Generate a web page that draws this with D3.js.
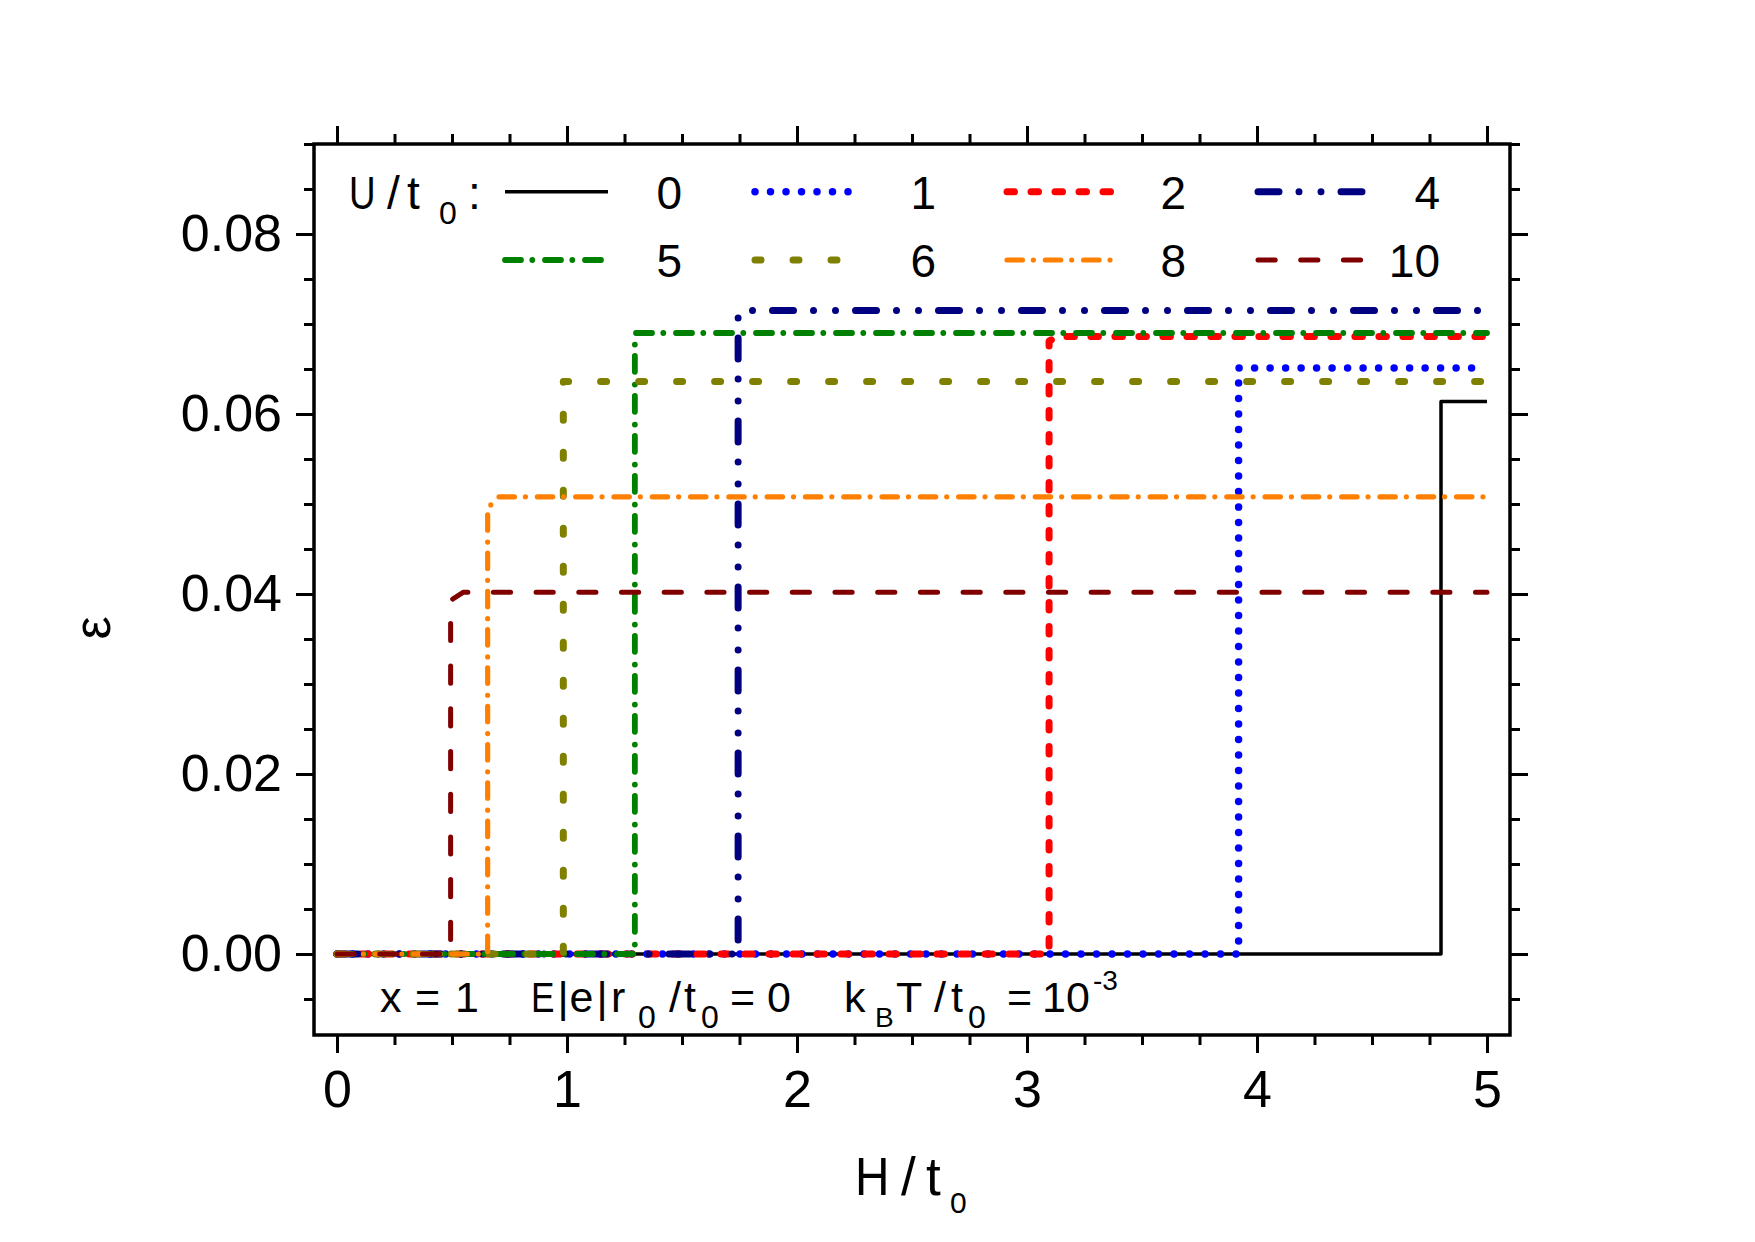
<!DOCTYPE html>
<html>
<head>
<meta charset="utf-8">
<script src="https://cdn.jsdelivr.net/npm/d3@7"></script>
<style>
  html, body { margin: 0; padding: 0; background: #fff; }
  svg { display: block; }
  text { font-family: "Liberation Sans", Arial, Helvetica, sans-serif; fill: #000; }
</style>
</head>
<body>
<svg id="chart" width="1755" height="1242"></svg>
<script>
// ---------------- data ----------------
const U_LABELS = ["0", "1", "2", "4", "5", "6", "8", "10"];

const H_U0  = [0, 4.80, 4.80, 5.00];
const EPS_U0 = [0, 0, 0.0614, 0.0614];

const H_U1  = [0, 3.92, 3.92, 5.00];
const EPS_U1 = [0, 0, 0.0651, 0.0651];

const H_U2  = [0, 3.096, 3.096, 3.13, 5.00];
const EPS_U2 = [0, 0, 0.0681, 0.0686, 0.0686];

const H_U4  = [0, 1.744, 1.744, 5.00];
const EPS_U4 = [0, 0, 0.0715, 0.0715];

const H_U5  = [0, 1.295, 1.295, 5.00];
const EPS_U5 = [0, 0, 0.0690, 0.0690];

const H_U6  = [0, 0.984, 0.984, 5.00];
const EPS_U6 = [0, 0, 0.0636, 0.0636];

const H_U8  = [0, 0.655, 0.655, 0.70, 5.00];
const EPS_U8 = [0, 0, 0.0495, 0.0508, 0.0508];

const H_U10  = [0, 0.494, 0.494, 0.55, 5.00];
const EPS_U10 = [0, 0, 0.0393, 0.0402, 0.0402];

const X_TICKS = [0, 1, 2, 3, 4, 5];
const X_TICK_LABELS = ["0", "1", "2", "3", "4", "5"];
const Y_TICKS = [0, 0.02, 0.04, 0.06, 0.08];
const Y_TICK_LABELS = ["0.00", "0.02", "0.04", "0.06", "0.08"];

// ---------------- styles ----------------
const SERIES_H = [H_U0, H_U1, H_U2, H_U4, H_U5, H_U6, H_U8, H_U10];
const SERIES_E = [EPS_U0, EPS_U1, EPS_U2, EPS_U4, EPS_U5, EPS_U6, EPS_U8, EPS_U10];
const STYLES = [
  { color: "#000000", width: 3.5, dash: null, cap: "butt" },
  { color: "#0000ff", width: 7.5, dash: "0 15.5", cap: "round" },
  { color: "#ff0000", width: 7,   dash: "7.5 16.5", cap: "round" },
  { color: "#000080", width: 7,   dash: "21 20 0 22 0 20", cap: "round" },
  { color: "#008000", width: 5.8, dash: "16 11.3 0 12.7", cap: "round" },
  { color: "#808000", width: 7,   dash: "6 32", cap: "round" },
  { color: "#ff8000", width: 5.2, dash: "15.4 11 0 11.9", cap: "round" },
  { color: "#800000", width: 5,   dash: "17.2 25.5", cap: "round" }
];

// ---------------- layout ----------------
const svg = d3.select("#chart");
const L = 314, R = 1510, T = 144, B = 1035;
const x = d3.scaleLinear().domain([-0.1, 5.1]).range([L, R]);
const y = d3.scaleLinear().domain([-0.009, 0.09]).range([B, T]);

const MAJ = 18, MIN = 10;
const xMinor = d3.range(-0.0, 5.01, 0.25).filter(v => Math.abs(v - Math.round(v)) > 1e-6);
const yMinor = d3.range(-0.005, 0.0901, 0.005).filter(v => Math.abs(v / 0.02 - Math.round(v / 0.02)) > 1e-6);

function styleAxis(g) {
  g.select(".domain").remove();
  g.selectAll(".tick line").attr("stroke", "#000").attr("stroke-width", 3);
}

// bottom axis
const gxB = svg.append("g").attr("transform", `translate(0,${B})`)
  .call(d3.axisBottom(x).tickValues(X_TICKS).tickSize(MAJ).tickSizeOuter(0)
        .tickFormat((d, i) => X_TICK_LABELS[i]));
styleAxis(gxB);
gxB.selectAll(".tick text").attr("y", 0).attr("dy", 0)
  .attr("transform", "translate(0,72)")
  .style("font-size", "52px").attr("text-anchor", "middle").attr("fill", "#000");
svg.append("g").attr("transform", `translate(0,${B})`)
  .call(d3.axisBottom(x).tickValues(xMinor).tickSize(MIN).tickFormat(""))
  .call(styleAxis);

// top axis (ticks outward)
svg.append("g").attr("transform", `translate(0,${T})`)
  .call(d3.axisTop(x).tickValues(X_TICKS).tickSize(MAJ).tickFormat(""))
  .call(styleAxis);
svg.append("g").attr("transform", `translate(0,${T})`)
  .call(d3.axisTop(x).tickValues(xMinor).tickSize(MIN).tickFormat(""))
  .call(styleAxis);

// left axis
const gyL = svg.append("g").attr("transform", `translate(${L},0)`)
  .call(d3.axisLeft(y).tickValues(Y_TICKS).tickSize(MAJ).tickPadding(14)
        .tickFormat((d, i) => Y_TICK_LABELS[i]));
styleAxis(gyL);
gyL.selectAll(".tick text").style("font-size", "52px").attr("dy", "0.31em").attr("fill", "#000");
svg.append("g").attr("transform", `translate(${L},0)`)
  .call(d3.axisLeft(y).tickValues(yMinor).tickSize(MIN).tickFormat(""))
  .call(styleAxis);

// right axis (ticks outward)
svg.append("g").attr("transform", `translate(${R},0)`)
  .call(d3.axisRight(y).tickValues(Y_TICKS).tickSize(MAJ).tickFormat(""))
  .call(styleAxis);
svg.append("g").attr("transform", `translate(${R},0)`)
  .call(d3.axisRight(y).tickValues(yMinor).tickSize(MIN).tickFormat(""))
  .call(styleAxis);

// clip for curves
svg.append("clipPath").attr("id", "plotclip")
  .append("rect").attr("x", L).attr("y", T).attr("width", R - L).attr("height", B - T);

const line = d3.line().x(d => x(d[0])).y(d => y(d[1]));
const curves = svg.append("g").attr("clip-path", "url(#plotclip)");
SERIES_H.forEach((hs, i) => {
  const pts = hs.map((h, j) => [h, SERIES_E[i][j]]);
  const s = STYLES[i];
  curves.append("path").datum(pts)
    .attr("d", line)
    .attr("fill", "none")
    .attr("stroke", s.color)
    .attr("stroke-width", s.width)
    .attr("stroke-linecap", s.cap)
    .attr("stroke-linejoin", "round")
    .attr("stroke-dasharray", s.dash);
});

// frame
svg.append("rect").attr("x", L).attr("y", T).attr("width", R - L).attr("height", B - T)
  .attr("fill", "none").attr("stroke", "#000").attr("stroke-width", 3.5);

// helper for text pieces (optional horizontal squeeze sx)
function txt(g, s, px, py, size, anchor, sx) {
  const t = g.append("text")
    .style("font-size", size + "px")
    .attr("text-anchor", anchor || "start").text(s);
  if (sx) {
    t.attr("transform", `translate(${px},${py}) scale(${sx},1)`);
  } else {
    t.attr("x", px).attr("y", py);
  }
  return t;
}

// ---------------- legend ----------------
const lg = svg.append("g");
const ROW_Y = [191.7, 260];
const ROW_BASE = [208.5, 276.5];
txt(lg, "U", 349, ROW_BASE[0], 46, "start", 0.8);
txt(lg, "/", 387, ROW_BASE[0], 46);
txt(lg, "t", 407, ROW_BASE[0], 46);
txt(lg, "0", 439, ROW_BASE[0] + 15, 32);
txt(lg, ":", 468, ROW_BASE[0], 46);

const LEG_X0 = [505, 755, 1007, 1258];
const LEG_X1 = [608, 855, 1112, 1364];
const LEG_LAB = [682, 936, 1186, 1440];
U_LABELS.forEach((u, i) => {
  const row = Math.floor(i / 4), col = i % 4;
  const s = STYLES[i];
  lg.append("line")
    .attr("x1", LEG_X0[col]).attr("x2", LEG_X1[col])
    .attr("y1", ROW_Y[row]).attr("y2", ROW_Y[row])
    .attr("stroke", s.color).attr("stroke-width", s.width)
    .attr("stroke-linecap", s.cap).attr("stroke-dasharray", s.dash);
  txt(lg, u, LEG_LAB[col], ROW_BASE[row], 46, "end");
});

// ---------------- annotation ----------------
const an = svg.append("g");
const AB = 1011.7, AS = 1028;
txt(an, "x", 380, AB, 43);
txt(an, "=", 415, AB, 43);
txt(an, "1", 455, AB, 43);
txt(an, "E", 531, AB, 43, "start", 0.82);
txt(an, "|", 557.5, AB, 43);
txt(an, "e", 569.5, AB, 43);
txt(an, "|", 596.5, AB, 43);
txt(an, "r", 611, AB, 43);
txt(an, "0", 638, AS, 32);
txt(an, "/", 669, AB, 43);
txt(an, "t", 684, AB, 43);
txt(an, "0", 701, AS, 32);
txt(an, "=", 730, AB, 43);
txt(an, "0", 767, AB, 43);
txt(an, "k", 844, AB, 43);
txt(an, "B", 875, 1027, 28);
txt(an, "T", 896, AB, 43);
txt(an, "/", 934, AB, 43);
txt(an, "t", 951, AB, 43);
txt(an, "0", 968, AS, 32);
txt(an, "=", 1007, AB, 43);
txt(an, "10", 1042, AB, 43);
txt(an, "-3", 1093, 990, 28);

// ---------------- axis titles ----------------
const at = svg.append("g");
txt(at, "H", 855, 1195, 53, "start", 0.9);
txt(at, "/", 901, 1195, 53);
txt(at, "t", 926, 1195, 53);
txt(at, "0", 950, 1213, 30);

svg.append("text")
  .attr("transform", "translate(110,628) rotate(-90)")
  .attr("text-anchor", "middle")
  .style("font-size", "52px")
  .text("ε");
</script>
</body>
</html>
